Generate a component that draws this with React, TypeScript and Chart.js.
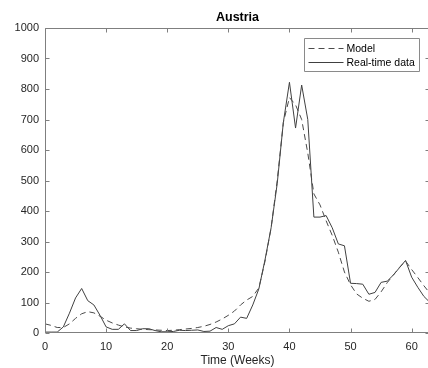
import React, { useEffect, useRef } from "react";
import { Chart, registerables } from "chart.js";

Chart.register(...registerables);

const weeks = [
  0, 1, 2, 3, 4, 5, 6, 7, 8, 9, 10, 11, 12, 13, 14, 15, 16, 17, 18, 19, 20,
  21, 22, 23, 24, 25, 26, 27, 28, 29, 30, 31, 32, 33, 34, 35, 36, 37, 38, 39,
  40, 41, 42, 43, 44, 45, 46, 47, 48, 49, 50, 51, 52, 53, 54, 55, 56, 57, 58,
  59, 60, 61, 62, 63,
];

const modelValues = [
  30, 25, 18, 18, 30, 48, 63, 70, 66, 55, 42, 33, 26, 20, 16, 14, 12, 11, 10,
  9, 8, 9, 11, 13, 15, 18, 22, 28, 36, 46, 58, 72, 92, 108, 120, 148, 235, 345,
  500, 690, 772, 748, 700, 590, 456, 420, 368, 320, 265, 200, 158, 128, 114,
  104, 110, 135, 165, 190, 215, 236, 208, 182, 155, 130,
];

const realTimeValues = [
  3, 3, 3, 20, 65, 115, 146, 106, 92, 58, 20, 12, 12, 30, 8, 8, 14, 14, 8, 4,
  4, 5, 9, 8, 9, 10, 5, 6, 18, 12, 24, 30, 52, 48, 92, 145, 240, 345, 490, 690,
  822, 672, 813, 700, 380, 380, 385, 345, 292, 286, 163, 162, 160, 127, 133,
  166, 170, 190, 214, 238, 183, 150, 120, 100,
];

const xTicks = [0, 10, 20, 30, 40, 50, 60];
const yTicks = [0, 100, 200, 300, 400, 500, 600, 700, 800, 900, 1000];

const seriesLabels = ["Model", "Real-time data"];
const chartTitle = "Austria";
const xAxisTitle = "Time (Weeks)";

const FONT = "Arial, 'Liberation Sans', Helvetica, sans-serif";
const AXIS_COLOR = "#7f7f7f";
const TEXT_COLOR = "#262626";

const boxPlugin = {
  id: "matlabBox",
  afterDraw(chart: any) {
    const ctx = chart.ctx;
    const { left, right, top, bottom } = chart.chartArea;
    const xs = chart.scales.x;
    const ys = chart.scales.y;
    ctx.save();
    ctx.strokeStyle = AXIS_COLOR;
    ctx.lineWidth = 1;
    const L = Math.round(left) + 0.5;
    const R = Math.round(right) - 0.5;
    const T = Math.round(top) + 0.5;
    const B = Math.round(bottom) - 0.5;
    ctx.beginPath();
    ctx.rect(L, T, R - L, B - T);
    ctx.stroke();
    const tl = 4;
    ctx.beginPath();
    xTicks.forEach((v) => {
      const px = Math.round(xs.getPixelForValue(v)) + 0.5;
      ctx.moveTo(px, B);
      ctx.lineTo(px, B - tl);
      ctx.moveTo(px, T);
      ctx.lineTo(px, T + tl);
    });
    yTicks.forEach((v) => {
      const py = Math.round(ys.getPixelForValue(v)) + 0.5;
      ctx.moveTo(L, py);
      ctx.lineTo(L + tl, py);
      ctx.moveTo(R, py);
      ctx.lineTo(R - tl, py);
    });
    ctx.stroke();

    // legend
    const bw = 115;
    const bh = 33;
    const bx = Math.round(right - 11 - bw) + 0.5;
    const by = Math.round(top + 10) + 0.5;
    ctx.fillStyle = "#ffffff";
    ctx.fillRect(bx, by, bw, bh);
    ctx.strokeStyle = "#8a8a8a";
    ctx.beginPath();
    ctx.rect(bx, by, bw, bh);
    ctx.stroke();
    ctx.font = `10.5px ${FONT}`;
    ctx.textBaseline = "middle";
    ctx.textAlign = "left";
    chart.data.datasets.forEach((ds: any, i: number) => {
      const y = by + 10 + i * 14;
      ctx.strokeStyle = ds.borderColor;
      ctx.lineWidth = 1;
      ctx.setLineDash(ds.borderDash || []);
      ctx.beginPath();
      ctx.moveTo(bx + 4, y);
      ctx.lineTo(bx + 39, y);
      ctx.stroke();
      ctx.setLineDash([]);
      ctx.fillStyle = "#000000";
      ctx.fillText(ds.label, bx + 42, y + 0.5);
    });
    ctx.restore();
  },
};

export default function App() {
  const canvasRef = useRef<HTMLCanvasElement | null>(null);

  useEffect(() => {
    if (!canvasRef.current) return;
    const chart = new Chart(canvasRef.current, {
      type: "line",
      data: {
        datasets: [
          {
            label: seriesLabels[0],
            data: weeks.map((w, i) => ({ x: w, y: modelValues[i] })),
            borderColor: "#4a4a4a",
            borderWidth: 1,
            borderDash: [6, 4],
            pointRadius: 0,
            tension: 0,
            fill: false,
          },
          {
            label: seriesLabels[1],
            data: weeks.map((w, i) => ({ x: w, y: realTimeValues[i] })),
            borderColor: "#404040",
            borderWidth: 1,
            pointRadius: 0,
            tension: 0,
            fill: false,
          },
        ],
      },
      options: {
        animation: false,
        responsive: false,
        devicePixelRatio: 1,
        layout: { padding: 0 },
        plugins: {
          legend: { display: false },
          tooltip: { enabled: false },
          title: {
            display: true,
            text: chartTitle,
            fullSize: false,
            color: "#000000",
            font: { family: FONT, size: 12.5, weight: "bold", lineHeight: 1.2 },
            padding: { top: 10, bottom: 3 },
          },
        },
        scales: {
          x: {
            type: "linear",
            min: 0,
            max: 63,
            afterFit: (s: any) => {
              s.height = 35;
            },
            afterBuildTicks: (s: any) => {
              s.ticks = xTicks.map((v) => ({ value: v }));
            },
            grid: { display: false, drawTicks: false },
            border: { display: false },
            ticks: {
              color: TEXT_COLOR,
              padding: 7,
              maxRotation: 0,
              font: { family: FONT, size: 11 },
              callback: (v: any) => String(v),
            },
            title: {
              display: true,
              text: xAxisTitle,
              color: TEXT_COLOR,
              font: { family: FONT, size: 12 },
              padding: { top: 0, bottom: 0 },
            },
          },
          y: {
            type: "linear",
            min: 0,
            max: 1000,
            afterFit: (s: any) => {
              s.width = 45;
            },
            afterBuildTicks: (s: any) => {
              s.ticks = yTicks.map((v) => ({ value: v }));
            },
            grid: { display: false, drawTicks: false },
            border: { display: false },
            ticks: {
              color: TEXT_COLOR,
              padding: 6,
              font: { family: FONT, size: 11 },
              callback: (v: any) => String(v),
            },
          },
        },
      },
      plugins: [boxPlugin],
    } as any);
    return () => chart.destroy();
  }, []);

  return (
    <div
      style={{
        position: "fixed",
        left: 0,
        top: 0,
        width: 428,
        height: 368,
        overflow: "hidden",
        background: "#ffffff",
      }}
    >
      <canvas
        ref={canvasRef}
        width={430}
        height={368}
        style={{ width: 430, height: 368, display: "block" }}
      />
    </div>
  );
}
